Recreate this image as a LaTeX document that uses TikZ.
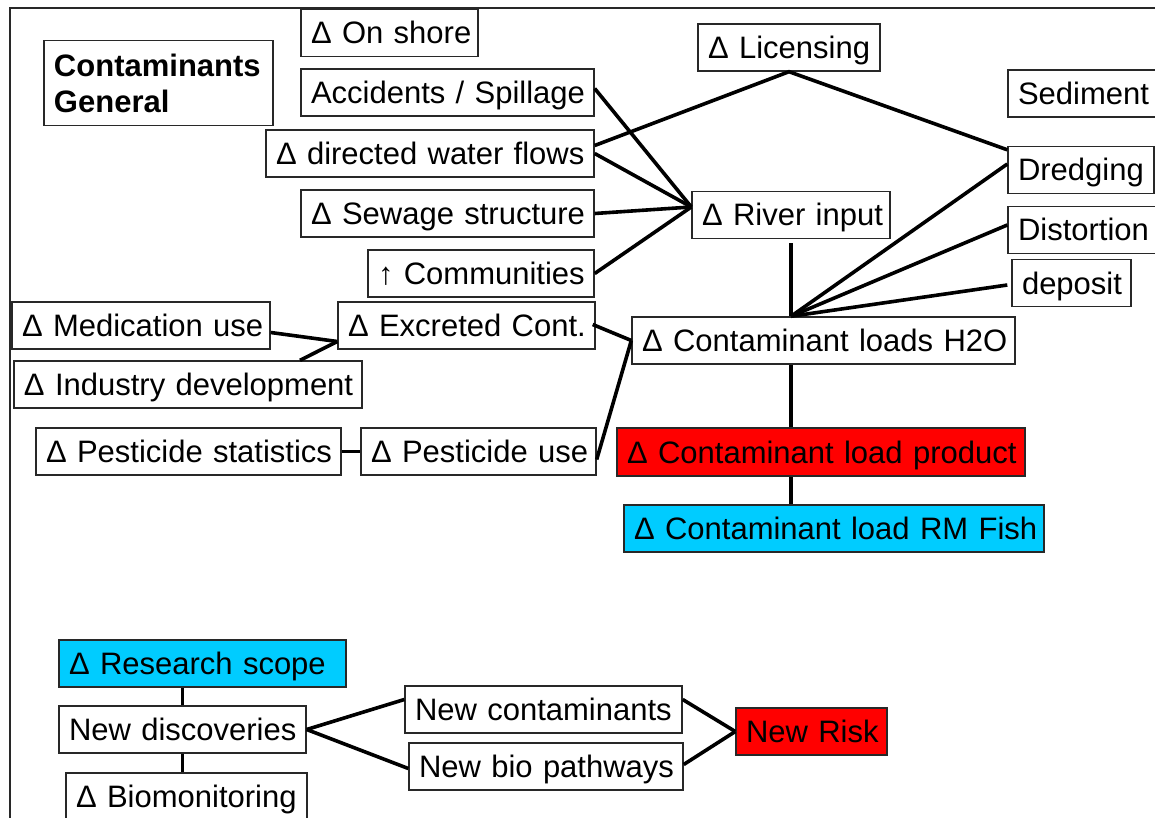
\documentclass[tikz,border=0pt]{standalone}
\usepackage{fontspec}
\setmainfont{Liberation Sans}
\usetikzlibrary{calc}
\definecolor{rred}{RGB}{255,0,0}
\definecolor{rcyan}{RGB}{0,204,255}
\definecolor{bord}{RGB}{40,40,40}
\newcommand\nb[1]{\mbox{#1}}
\begin{document}
\begin{tikzpicture}[x=0.5pt,y=-0.5pt,
  basebx/.style={draw=bord, line width=0.7pt, inner xsep=5pt, inner ysep=0pt,
    minimum height=23.5pt, align=left, text width=#1,
    font=\fontsize{15.5}{18}\selectfont},
  bx/.style={basebx=#1, text height=12pt, text depth=1pt},
  con/.style={line width=1.8pt},
  frame/.style={draw=bord, line width=1pt}]
\useasboundingbox (0,0) rectangle (1155,818);
\draw[frame] (10,830) -- (10,8) -- (1160,8);

\node[basebx=104.5pt, minimum height=42.5pt, font=\fontsize{15.5}{18}\selectfont\bfseries] (gen) at (158.5,83) {Contaminants\\General};
\node[bx=78.5pt]  (onshore) at (389.5,33)   {\nb{Δ On shore}};
\node[bx=136.5pt] (acc)     at (447.5,92.5) {\nb{Accidents / Spillage}};
\node[bx=154pt]   (dir)     at (430,153.5)  {\nb{Δ directed water flows}};
\node[bx=136.5pt] (sew)     at (447.5,213.5){\nb{Δ Sewage structure}};
\node[bx=103pt]   (com)     at (481,273.5)  {\nb{↑ Communities}};
\node[bx=81pt]    (lic)     at (789,47.5)   {\nb{Δ Licensing}};
\node[bx=66pt]    (sed)     at (1084,93.5)  {\nb{Sediment}};
\node[bx=63pt]    (dred)    at (1081,170)   {\nb{Dredging}};
\node[bx=66pt]    (dist)    at (1084,230)   {\nb{Distortion}};
\node[bx=49.5pt]  (dep)     at (1071.5,283) {\nb{deposit}};
\node[bx=89pt]    (river)   at (791,215)    {\nb{Δ River input}};
\node[bx=181.5pt] (h2o)     at (823.5,340.5){\nb{Δ Contaminant loads H2O}};
\node[bx=194pt, fill=rred, minimum height=24pt]  (prod) at (821,452) {\nb{Δ Contaminant load product}};
\node[bx=200pt, fill=rcyan] (fish) at (834,528.5) {\nb{Δ Contaminant load RM Fish}};
\node[bx=119pt]   (med)     at (141,325.5)  {\nb{Δ Medication use}};
\node[bx=118.5pt] (exc)     at (466.5,325.5){\nb{Δ Excreted Cont.}};
\node[bx=164pt]   (ind)     at (188,384.5)  {\nb{Δ Industry development}};
\node[bx=142.5pt] (pstat)   at (188.5,451.5){\nb{Δ Pesticide statistics}};
\node[bx=107.5pt] (puse)    at (478.5,451.5){\nb{Δ Pesticide use}};
\node[bx=133.5pt, fill=rcyan] (res) at (202.5,663.5) {\nb{Δ Research scope}};
\node[bx=113.5pt] (disc)    at (182.5,729.5){\nb{New discoveries}};
\node[bx=110.5pt] (bio)     at (186.5,796.5){\nb{Δ Biomonitoring}};
\node[bx=128.5pt] (newc)    at (543.5,709.5){\nb{New contaminants}};
\node[bx=127pt]   (newb)    at (546,766.5)  {\nb{New bio pathways}};
\node[bx=65.5pt, fill=rred] (risk) at (811.5,731.5) {\nb{New Risk}};

% river input cluster
\coordinate (rin) at ([yshift=4pt]river.west);
\draw[con] ([yshift=2pt]acc.east) -- (rin);
\draw[con] (dir.east) -- (rin);
\draw[con] (sew.east) -- (rin);
\draw[con] (com.east) -- (rin);
% licensing
\draw[con] ([yshift=4pt]dir.east) -- (lic.south) -- ([yshift=-2pt]dred.north west);
% H2O top
\coordinate (htop) at (river.south |- h2o.north);
\draw[con] ([yshift=-2pt]river.south) -- (htop);
\draw[con] ([yshift=3pt]dred.west) -- (htop);
\draw[con] ([yshift=2.5pt]dist.west) -- (htop);
\draw[con] ([xshift=-2pt,yshift=-1pt]dep.west) -- (htop);
% excreted
\coordinate (ein) at ([yshift=-8pt]exc.west);
\draw[con] ([yshift=-3.5pt]med.east) -- (ein);
\draw[con] ([xshift=56pt]ind.north) -- (ein);
\draw[con] ([xshift=-1.5pt,yshift=0.5pt]exc.east) -- (h2o.west);
\draw[con] ([yshift=-4pt]puse.east) -- (h2o.west);
\draw[con] (pstat.east) -- (puse.west);
% vertical chain
\draw[con] (river.south |- h2o.south) -- (river.south |- prod.north);
\draw[con] (river.south |- prod.south) -- (river.south |- fish.north);
% research
\draw[con] (disc.north |- res.south) -- (disc.north);
\draw[con] (disc.south) -- (disc.south |- bio.north);
\draw[con] (disc.east) -- ([yshift=5pt]newc.west);
\draw[con] (disc.east) -- ([yshift=-1pt]newb.west);
\draw[con] ([yshift=5pt]newc.east) -- (risk.west);
\draw[con] ([yshift=1pt]newb.east) -- (risk.west);
\end{tikzpicture}
\end{document}
